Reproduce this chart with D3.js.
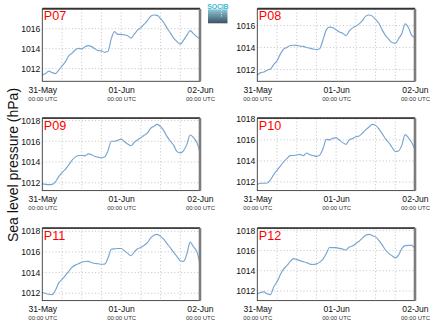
<!DOCTYPE html>
<html>
<head>
<meta charset="utf-8">
<script src="https://cdn.jsdelivr.net/npm/d3@7"></script>
<style>
  body { margin: 0; background: #fff; }
  text { font-family: "Liberation Sans", Arial, Helvetica, sans-serif; }
</style>
</head>
<body>
<svg id="chart" width="435" height="327"></svg>
<script>
// Hourly sea level pressure (hPa), 31 May 00:00 UTC to 02 Jun 00:00 UTC
const stations = ["P07", "P08", "P09", "P10", "P11", "P12"];

const p07 = [1011.33, 1011.5, 1011.75, 1011.6, 1011.5, 1011.85, 1012.27, 1012.68, 1013.25, 1013.53,
  1013.87, 1014.03, 1013.97, 1014.2, 1014.3, 1014.2, 1014.0, 1013.8, 1013.77, 1013.63,
  1013.75, 1015.0, 1015.7, 1015.43, 1015.43, 1015.38, 1015.3, 1015.05, 1015.45, 1015.85,
  1016.1, 1016.45, 1016.8, 1017.25, 1017.37, 1017.33, 1017.0, 1016.6, 1016.05, 1015.55,
  1015.05, 1014.7, 1014.45, 1014.85, 1015.35, 1015.8, 1015.5, 1015.2, 1014.97];

const p08 = [1011.48, 1011.72, 1011.78, 1011.94, 1012.05, 1012.45, 1012.8, 1013.4, 1013.85, 1014.0,
  1014.18, 1014.21, 1014.2, 1014.13, 1014.1, 1014.0, 1013.93, 1013.87, 1013.8, 1013.9,
  1014.7, 1015.6, 1015.85, 1015.8, 1015.62, 1015.4, 1015.3, 1015.08, 1015.5, 1015.78,
  1015.95, 1016.15, 1016.45, 1016.85, 1016.95, 1016.85, 1016.55, 1016.2, 1015.6, 1015.1,
  1014.75, 1014.45, 1014.38, 1014.8, 1015.27, 1016.15, 1015.82, 1015.1, 1014.91];

const p09 = [1011.9, 1011.85, 1011.83, 1011.85, 1012.1, 1012.6, 1012.97, 1013.3, 1013.7, 1014.15,
  1014.47, 1014.63, 1014.63, 1014.6, 1014.78, 1014.7, 1014.53, 1014.47, 1014.4, 1014.5,
  1015.1, 1016.0, 1016.0, 1016.1, 1016.2, 1015.97, 1015.73, 1015.57, 1015.9, 1016.13,
  1016.35, 1016.57, 1016.8, 1017.25, 1017.45, 1017.63, 1017.4, 1017.0, 1016.45, 1016.0,
  1015.6, 1015.0, 1014.88, 1015.1, 1015.7, 1016.6, 1016.35, 1015.9, 1014.97];

const p10 = [1011.75, 1011.88, 1011.88, 1011.9, 1012.2, 1012.7, 1013.1, 1013.5, 1013.9, 1014.22,
  1014.5, 1014.52, 1014.56, 1014.62, 1014.5, 1014.75, 1014.58, 1014.51, 1014.43, 1014.55,
  1015.15, 1016.05, 1016.0, 1016.15, 1016.21, 1015.97, 1015.74, 1015.58, 1016.0, 1016.14,
  1016.3, 1016.37, 1016.65, 1016.95, 1017.22, 1017.48, 1017.38, 1017.05, 1016.6, 1016.1,
  1015.75, 1015.3, 1014.9, 1014.95, 1015.5, 1016.5, 1016.2, 1015.75, 1015.07];

const p11 = [1012.07, 1011.97, 1011.9, 1011.87, 1012.3, 1013.0, 1013.33, 1013.7, 1014.1, 1014.5,
  1014.72, 1014.85, 1015.0, 1015.07, 1015.08, 1014.97, 1014.88, 1014.85, 1014.8, 1014.82,
  1015.4, 1016.25, 1016.3, 1016.33, 1016.33, 1016.1, 1015.86, 1015.63, 1016.0, 1016.3,
  1016.43, 1016.63, 1016.9, 1017.35, 1017.62, 1017.7, 1017.5, 1017.2, 1016.78, 1016.38,
  1015.95, 1015.55, 1015.15, 1015.08, 1015.8, 1016.95, 1016.5, 1016.05, 1014.85];

const p12 = [1011.68, 1011.84, 1011.9, 1011.72, 1011.64, 1012.4, 1012.9, 1013.6, 1014.15, 1014.5,
  1014.9, 1015.2, 1015.1, 1015.0, 1014.9, 1014.8, 1014.65, 1014.62, 1014.68, 1014.85,
  1015.15, 1015.7, 1016.3, 1016.28, 1016.28, 1016.21, 1016.15, 1016.05, 1016.35, 1016.44,
  1016.7, 1016.92, 1017.22, 1017.5, 1017.6, 1017.47, 1017.35, 1017.0, 1016.55, 1016.05,
  1015.72, 1015.48, 1015.28, 1015.55, 1016.2, 1016.48, 1016.5, 1016.5, 1016.15];

const series = [p07, p08, p09, p10, p11, p12];
const dayLabels = ["31-May", "01-Jun", "02-Jun"];
const timeLabel = "00:00 UTC";
const yTitle = "Sea level pressure (hPa)";

const start = new Date(Date.UTC(2023, 4, 31));
const end = d3.utcDay.offset(start, 2);
const dayTicks = d3.utcDay.range(start, d3.utcDay.offset(end, 1));

const svg = d3.select("#chart");

// panel geometry
const colX = [42.3, 257.3];
const rowY = [9, 118.3, 228.3];
const pw = 157.7, ph = 72.3;

const lineColor = "#77a5d2";

series.forEach((vals, i) => {
  const x0 = colX[i % 2], y0 = rowY[Math.floor(i / 2)];
  const data = vals.map((v, h) => ({ t: d3.utcHour.offset(start, h), v }));

  const x = d3.scaleUtc().domain([start, end]).range([0, pw]);
  const [lo, hi] = d3.extent(vals);
  const pad = (hi - lo) * 0.1;
  const y = d3.scaleLinear().domain([lo - pad, hi + pad]).range([ph, 0]);
  const yTicks = y.ticks(4).filter(d => d % 2 === 0);

  const g = svg.append("g").attr("transform", `translate(${x0},${y0})`);

  // dotted grid
  const sixHours = d3.utcHour.every(6).range(d3.utcHour.offset(start, 1), end);
  g.append("g").selectAll("line").data(sixHours).join("line")
    .attr("x1", d => x(d)).attr("x2", d => x(d))
    .attr("y1", 0).attr("y2", ph)
    .attr("stroke", "#b5b5b5").attr("stroke-width", 0.8)
    .attr("stroke-dasharray", "1,2.3");
  g.append("g").selectAll("line").data(yTicks).join("line")
    .attr("x1", 0).attr("x2", pw)
    .attr("y1", d => y(d)).attr("y2", d => y(d))
    .attr("stroke", "#b5b5b5").attr("stroke-width", 0.8)
    .attr("stroke-dasharray", "1,2.3");

  // pressure trace
  const line = d3.line().x(d => x(d.t)).y(d => y(d.v)).curve(d3.curveMonotoneX);
  g.append("path").datum(data)
    .attr("d", line)
    .attr("fill", "none")
    .attr("stroke", lineColor)
    .attr("stroke-width", 1.15)
    .attr("stroke-linejoin", "round");

  // frame: thin sides, heavier top edge, shaded right edge
  g.append("rect").attr("x", 0).attr("y", 0).attr("width", pw).attr("height", ph)
    .attr("fill", "none").attr("stroke", "#3a3a3a").attr("stroke-width", 0.9);
  g.append("line").attr("x1", 0).attr("x2", pw).attr("y1", -0.3).attr("y2", -0.3)
    .attr("stroke", "#333").attr("stroke-width", 1.7);
  g.append("line").attr("x1", pw).attr("x2", pw).attr("y1", 0).attr("y2", ph)
    .attr("stroke", "#7d7d7d").attr("stroke-width", 2.6);

  // y axis
  const yAxis = g.append("g")
    .call(d3.axisLeft(y).tickValues(yTicks).tickSize(0).tickPadding(2).tickFormat(d3.format("d")));
  yAxis.select(".domain").remove();
  yAxis.selectAll("text").attr("font-size", 8.6).attr("fill", "#111")
    .style("font-family", '"Liberation Sans", Arial, sans-serif');

  // x axis: date on first line, time on second
  const xAxis = g.append("g").attr("transform", `translate(0,${ph})`)
    .call(d3.axisBottom(x).tickValues(dayTicks).tickSize(0)
      .tickFormat((d, k) => dayLabels[k]));
  xAxis.select(".domain").remove();
  xAxis.selectAll(".tick text").attr("y", 11.3).attr("dy", 0)
    .attr("font-size", 8.6).attr("fill", "#111")
    .style("font-family", '"Liberation Sans", Arial, sans-serif');
  xAxis.selectAll(".tick").append("text")
    .attr("y", 19.7).attr("text-anchor", "middle")
    .attr("font-size", 6).attr("fill", "#333")
    .style("font-family", '"Liberation Sans", Arial, sans-serif')
    .text(timeLabel);

  // station name
  g.append("text").attr("x", 1.5).attr("y", 11.3)
    .attr("font-size", 12.6).attr("fill", "#ff0000")
    .text(stations[i]);
});

// y axis title
svg.append("text")
  .attr("transform", "translate(18,165) rotate(-90)")
  .attr("text-anchor", "middle")
  .attr("font-size", 14)
  .attr("fill", "#111")
  .text(yTitle);

// small institutional mark between the top panels
const defs = svg.append("defs");
const grad = defs.append("linearGradient").attr("id", "logoGrad")
  .attr("x1", 0).attr("y1", 0).attr("x2", 0).attr("y2", 1);
grad.append("stop").attr("offset", "0%").attr("stop-color", "#8ccbd8");
grad.append("stop").attr("offset", "100%").attr("stop-color", "#3b5163");
const logo = svg.append("g").attr("transform", "translate(208,2)");
logo.append("text").attr("x", 9.8).attr("y", 6.5).attr("text-anchor", "middle")
  .attr("font-size", 7).attr("font-weight", "bold").attr("fill", "#45b9d4")
  .attr("letter-spacing", -0.2)
  .text("SOCIB");
logo.append("rect").attr("x", 0).attr("y", 7.3).attr("width", 19.5).attr("height", 14)
  .attr("fill", "url(#logoGrad)");
logo.append("line").attr("x1", 13.5).attr("x2", 13.5).attr("y1", 8.5).attr("y2", 16)
  .attr("stroke", "#fff").attr("stroke-width", 0.8).attr("stroke-dasharray", "1,1.5");
</script>
</body>
</html>
